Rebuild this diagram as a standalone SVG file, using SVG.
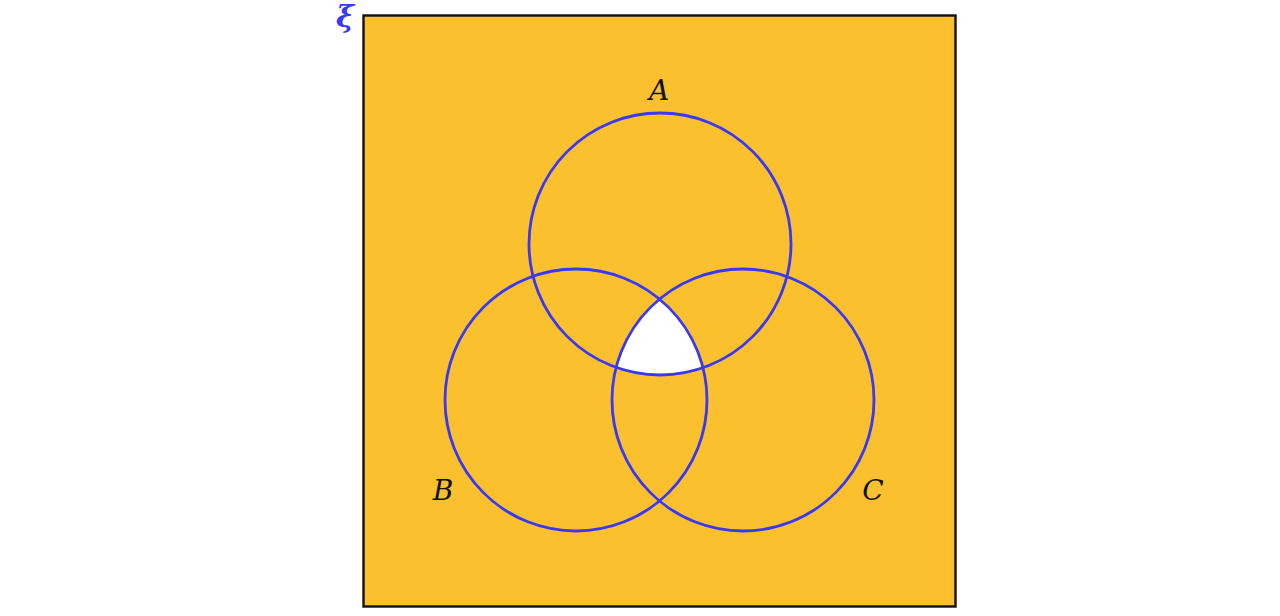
<svg xmlns="http://www.w3.org/2000/svg" width="1280" height="616" viewBox="0 0 1280 616">
<style>
.set{fill:none;stroke:#3838F5;stroke-width:2.8}
.lbl{font-family:"DejaVu Serif","Liberation Serif",serif;font-style:italic;font-size:28px;fill:#111;text-anchor:middle}
</style>
<rect x="0" y="0" width="1280" height="616" fill="#fff"/>
<g id="universe">
<rect x="363.5" y="15.5" width="592" height="591" fill="#FBC02D" stroke="#111" stroke-width="2.4"/>
<text x="345" y="27" font-family="DejaVu Serif, serif" font-style="italic" font-weight="bold" font-size="30" fill="#3838F5" text-anchor="middle">ξ</text>
</g>
<g id="intersection">
<path d="M659.5,299.1 A131,131 0 0 1 703,367.8 A131,131 0 0 1 616.1,367.4 A131,131 0 0 1 659.5,299.1 Z" fill="#fff"/>
</g>
<g id="setA">
<circle class="set" cx="660" cy="244" r="131"/>
<text class="lbl" x="659" y="100">A</text>
</g>
<g id="setB">
<circle class="set" cx="576" cy="400" r="131"/>
<text class="lbl" x="443" y="500">B</text>
</g>
<g id="setC">
<circle class="set" cx="743" cy="400" r="131"/>
<text class="lbl" x="873" y="500">C</text>
</g>
</svg>
